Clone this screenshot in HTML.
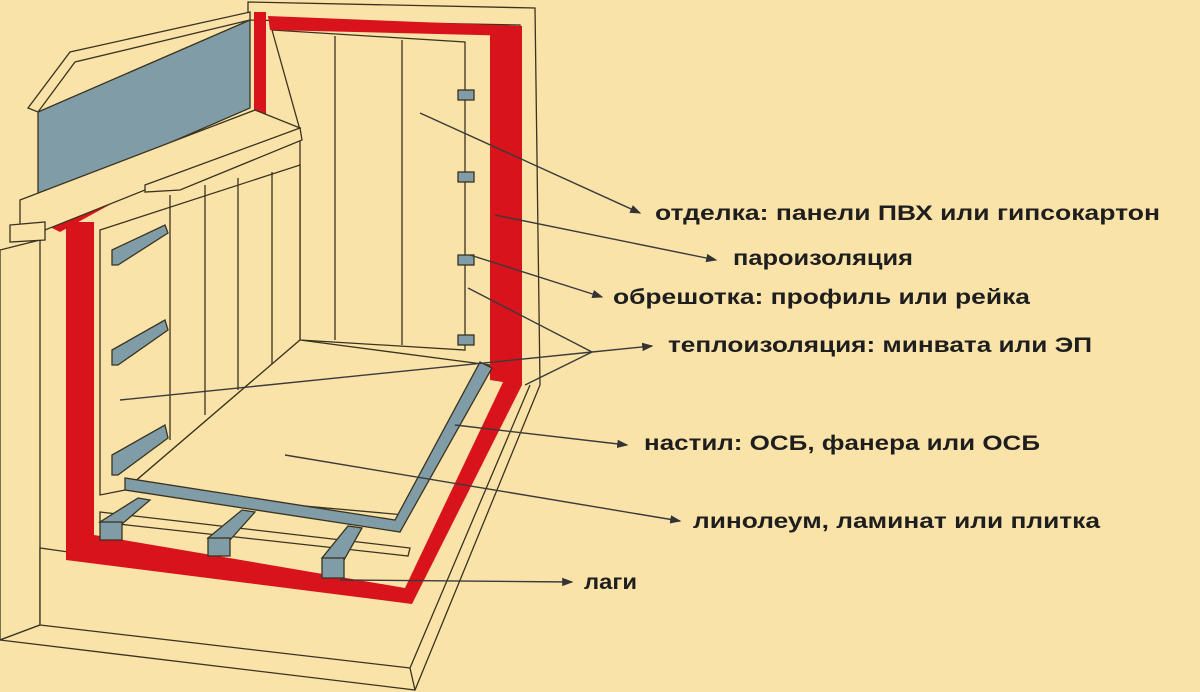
<!DOCTYPE html>
<html><head><meta charset="utf-8"><style>html,body{margin:0;padding:0;background:#f9e3a9}svg{display:block}</style></head>
<body>
<svg width="1200" height="692" viewBox="0 0 1200 692" xmlns="http://www.w3.org/2000/svg" font-family="'Liberation Sans','Noto Sans CJK SC',sans-serif">
<defs><marker id="a" markerWidth="8" markerHeight="8" refX="7" refY="4" orient="auto"><path d="M0,1 L8,4 L0,7 z" fill="#333"/></marker></defs>
<rect width="1200" height="692" fill="#f9e3a9"/>
<g stroke="#3a3320" stroke-width="1.3" fill="#f9e3a9">
<!-- outer structure -->
<polygon points="0,250 40,240 40,625 0,640"/>
<polygon points="0,640 415,690 540,385 535,8 248,2 248,20 520,25 520,380 410,600 40,548 40,625"/>
<line x1="40" y1="625" x2="410" y2="668"/>
<line x1="410" y1="668" x2="530" y2="385"/>
<line x1="410" y1="668" x2="415" y2="690"/>
<!-- back wall -->
<polygon points="272,30 465,42 465,350 300,340 300,130"/>
<line x1="335" y1="36" x2="335" y2="340"/><line x1="402" y1="40" x2="402" y2="345"/>
<!-- left wall panels -->
<polygon points="100,230 300,165 300,340 125,490 100,495"/>
<line x1="170" y1="195" x2="170" y2="440"/><line x1="205" y1="185" x2="205" y2="415"/>
<line x1="238" y1="178" x2="238" y2="390"/><line x1="272" y1="172" x2="272" y2="365"/>
<!-- floor -->
<polygon points="125,490 300,340 490,365 405,515"/>
</g>
<!-- red vapor barrier -->
<polyline points="80,548 80,222" fill="none" stroke="#d8131c" stroke-width="28"/>
<polygon points="66,535 94,535 405,588 505,378 522,385 412,604 66,560" fill="#d8131c"/>
<polygon points="490,28 522,30 522,385 490,380" fill="#d8131c"/>
<polygon points="268,16 522,26 522,36 270,30" fill="#d8131c"/>
<polygon points="40,222 260,112 268,118 60,232" fill="#d8131c"/>
<polygon points="254,12 266,12 266,115 254,115" fill="#d8131c"/>
<!-- window -->
<g stroke="#3a3320" stroke-width="1.3">
<polygon points="28,108 70,52 250,12 250,20 75,62 38,112" fill="#f9e3a9"/>
<polygon points="38,112 250,20 250,108 38,200" fill="#7f9ca7"/>
<polygon points="20,200 255,110 300,128 45,230 20,225" fill="#f9e3a9"/>
<polygon points="10,225 45,222 45,240 10,242" fill="#f9e3a9"/>
<polygon points="145,185 300,128 302,140 180,190 145,192" fill="#f9e3a9"/>
<!-- floor blue board -->
<polygon points="125,478 395,520 480,362 492,368 400,532 125,490" fill="#7f9ca7"/>
<polygon points="100,512 410,548 408,556 100,522" fill="#f9e3a9"/>
<!-- lagi -->
<polygon points="100,522 122,524 150,500 138,498" fill="#7f9ca7"/>
<rect x="100" y="522" width="22" height="18" fill="#7f9ca7"/>
<polygon points="208,538 230,540 255,512 242,510" fill="#7f9ca7"/>
<rect x="208" y="538" width="22" height="18" fill="#7f9ca7"/>
<polygon points="322,558 344,560 362,528 348,526" fill="#7f9ca7"/>
<rect x="322" y="558" width="22" height="20" fill="#7f9ca7"/>
<!-- right wall battens -->
<rect x="458" y="90" width="16" height="10" fill="#7f9ca7"/>
<rect x="458" y="172" width="16" height="10" fill="#7f9ca7"/>
<rect x="458" y="255" width="16" height="10" fill="#7f9ca7"/>
<rect x="458" y="335" width="16" height="10" fill="#7f9ca7"/>
<!-- left wall battens -->
<polygon points="112,250 165,225 168,233 118,265 112,265" fill="#7f9ca7"/>
<polygon points="112,350 165,320 168,330 118,365 112,365" fill="#7f9ca7"/>
<polygon points="112,455 165,425 168,438 118,475 112,475" fill="#7f9ca7"/>
</g>
<!-- leader lines -->
<g stroke="#3a3a3a" stroke-width="1.4" fill="none">
<line x1="420" y1="113" x2="640" y2="213" marker-end="url(#a)"/>
<line x1="495" y1="215" x2="716" y2="260" marker-end="url(#a)"/>
<line x1="470" y1="255" x2="602" y2="297" marker-end="url(#a)"/>
<line x1="468" y1="288" x2="592" y2="352"/>
<line x1="120" y1="400" x2="592" y2="352"/>
<line x1="525" y1="385" x2="592" y2="352"/>
<line x1="592" y1="352" x2="652" y2="346" marker-end="url(#a)"/>
<line x1="455" y1="425" x2="627" y2="445" marker-end="url(#a)"/>
<line x1="285" y1="455" x2="680" y2="521" marker-end="url(#a)"/>
<line x1="340" y1="580" x2="572" y2="582" marker-end="url(#a)"/>
</g>
<g fill="#1e1e1e" font-weight="bold" font-size="21">
<text x="655" y="220" textLength="505" lengthAdjust="spacingAndGlyphs">отделка: панели ПВХ или гипсокартон</text>
<text x="733" y="265" textLength="180" lengthAdjust="spacingAndGlyphs">пароизоляция</text>
<text x="613" y="304" textLength="417" lengthAdjust="spacingAndGlyphs">обрешотка: профиль или рейка</text>
<text x="668" y="352" textLength="424" lengthAdjust="spacingAndGlyphs">теплоизоляция: минвата или ЭП</text>
<text x="644" y="450" textLength="396" lengthAdjust="spacingAndGlyphs">настил: ОСБ, фанера или ОСБ</text>
<text x="693" y="528" textLength="407" lengthAdjust="spacingAndGlyphs">линолеум, ламинат или плитка</text>
<text x="584" y="589" textLength="53" lengthAdjust="spacingAndGlyphs">лаги</text>
</g>
</svg>
</body></html>
